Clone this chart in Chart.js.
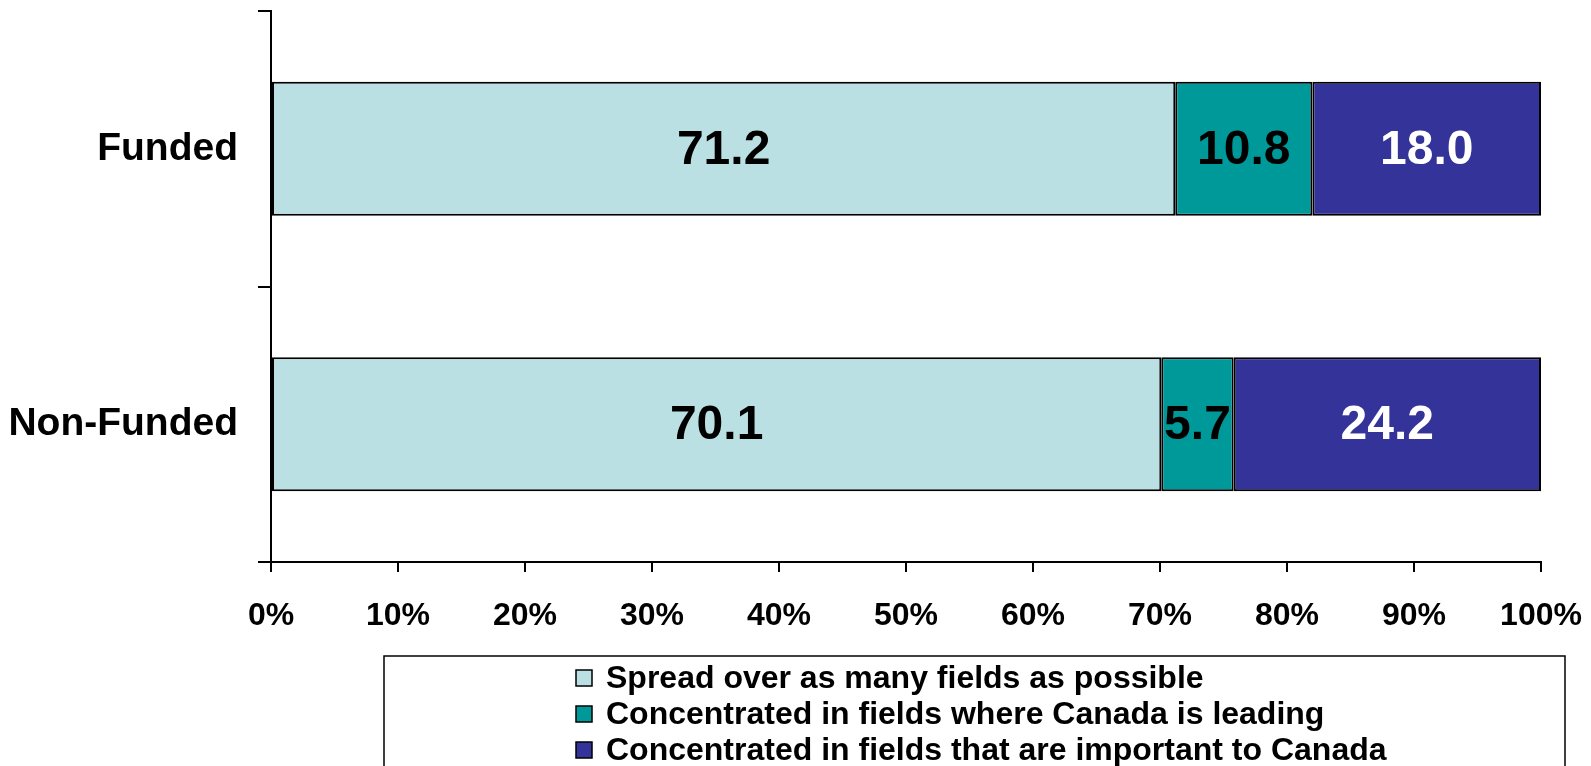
<!DOCTYPE html>
<html>
<head>
<meta charset="utf-8">
<script src="https://cdn.jsdelivr.net/npm/chart.js@4/dist/chart.umd.min.js"></script>
<style>
  html, body { margin: 0; padding: 0; background: #ffffff; }
  #wrap { width: 1591px; height: 766px; position: relative; }
</style>
</head>
<body>
<div id="wrap"><canvas id="c" width="1591" height="766"></canvas></div>
<script>
const categories = ['Funded', 'Non-Funded'];
const seriesNames = [
  'Spread over as many fields as possible',
  'Concentrated in fields where Canada is leading',
  'Concentrated in fields that are important to Canada'
];
const spreadValues = [71.2, 70.1];
const leadingValues = [10.8, 5.7];
const importantValues = [18.0, 24.2];
const xTickValues = [0, 10, 20, 30, 40, 50, 60, 70, 80, 90, 100];
const seriesColors = ['#BBE0E3', '#009999', '#333399'];
const labelColors = ['#000000', '#000000', '#ffffff'];

const FONT = '"Liberation Sans", Arial, sans-serif';

const valueLabels = {
  id: 'valueLabels',
  afterDatasetsDraw(chart) {
    const ctx = chart.ctx;
    ctx.save();
    ctx.font = 'bold 48px ' + FONT;
    ctx.textAlign = 'center';
    ctx.textBaseline = 'middle';
    chart.data.datasets.forEach((ds, di) => {
      const meta = chart.getDatasetMeta(di);
      meta.data.forEach((el, i) => {
        const v = ds.data[i];
        ctx.fillStyle = labelColors[di];
        ctx.fillText(v.toFixed(1), (el.x + el.base) / 2, el.y + 2);
      });
    });
    ctx.restore();
  }
};

const boxLegend = {
  id: 'boxLegend',
  afterDraw(chart) {
    const ctx = chart.ctx;
    ctx.save();
    ctx.strokeStyle = '#000000';
    ctx.lineWidth = 1.5;
    ctx.strokeRect(384, 656, 1181, 200);
    ctx.font = 'bold 32px ' + FONT;
    ctx.textAlign = 'left';
    ctx.textBaseline = 'middle';
    chart.data.datasets.forEach((ds, di) => {
      const cy = 678 + di * 36;
      ctx.fillStyle = ds.backgroundColor;
      ctx.fillRect(576, cy - 8, 16, 16);
      ctx.lineWidth = 1.5;
      ctx.strokeRect(576, cy - 8, 16, 16);
      ctx.fillStyle = '#000000';
      ctx.fillText(ds.label, 606, cy + 1);
    });
    ctx.restore();
  }
};

const datasets = [spreadValues, leadingValues, importantValues].map((vals, i) => ({
  label: seriesNames[i],
  data: vals,
  backgroundColor: seriesColors[i],
  borderColor: '#000000',
  borderWidth: 2,
  borderSkipped: false,
  barPercentage: 0.486,
  categoryPercentage: 1.0
}));

new Chart(document.getElementById('c'), {
  type: 'bar',
  data: { labels: categories, datasets },
  options: {
    indexAxis: 'y',
    responsive: false,
    animation: false,
    events: [],
    layout: { padding: { top: 11, right: 50, bottom: 114, left: 0 } },
    plugins: { legend: { display: false }, tooltip: { enabled: false } },
    scales: {
      x: {
        stacked: true,
        min: 0,
        max: 100,
        afterBuildTicks(scale) { scale.ticks = xTickValues.map(v => ({ value: v })); },
        afterFit(scale) {
          scale.height = 90;
          scale.paddingLeft = 0; scale.paddingRight = 0;
          scale.paddingTop = 0; scale.paddingBottom = 0;
        },
        border: { display: true, color: '#000000', width: 2 },
        grid: { drawOnChartArea: false, drawTicks: true, tickLength: 10, color: '#000000', lineWidth: 2 },
        ticks: {
          color: '#000000',
          font: { family: FONT, size: 32, weight: 'bold' },
          padding: 25,
          maxRotation: 0,
          autoSkip: false,
          callback: (v) => v + '%'
        }
      },
      y: {
        stacked: true,
        afterFit(scale) {
          scale.width = 271;
          scale.paddingLeft = 0; scale.paddingRight = 0;
          scale.paddingTop = 0; scale.paddingBottom = 0;
        },
        border: { display: true, color: '#000000', width: 2 },
        grid: { offset: true, drawOnChartArea: false, drawTicks: true, tickLength: 13, color: '#000000', lineWidth: 2 },
        ticks: {
          color: '#000000',
          font: { family: FONT, size: 39, weight: 'bold' },
          padding: 20
        }
      }
    }
  },
  plugins: [valueLabels, boxLegend]
});
</script>
</body>
</html>
